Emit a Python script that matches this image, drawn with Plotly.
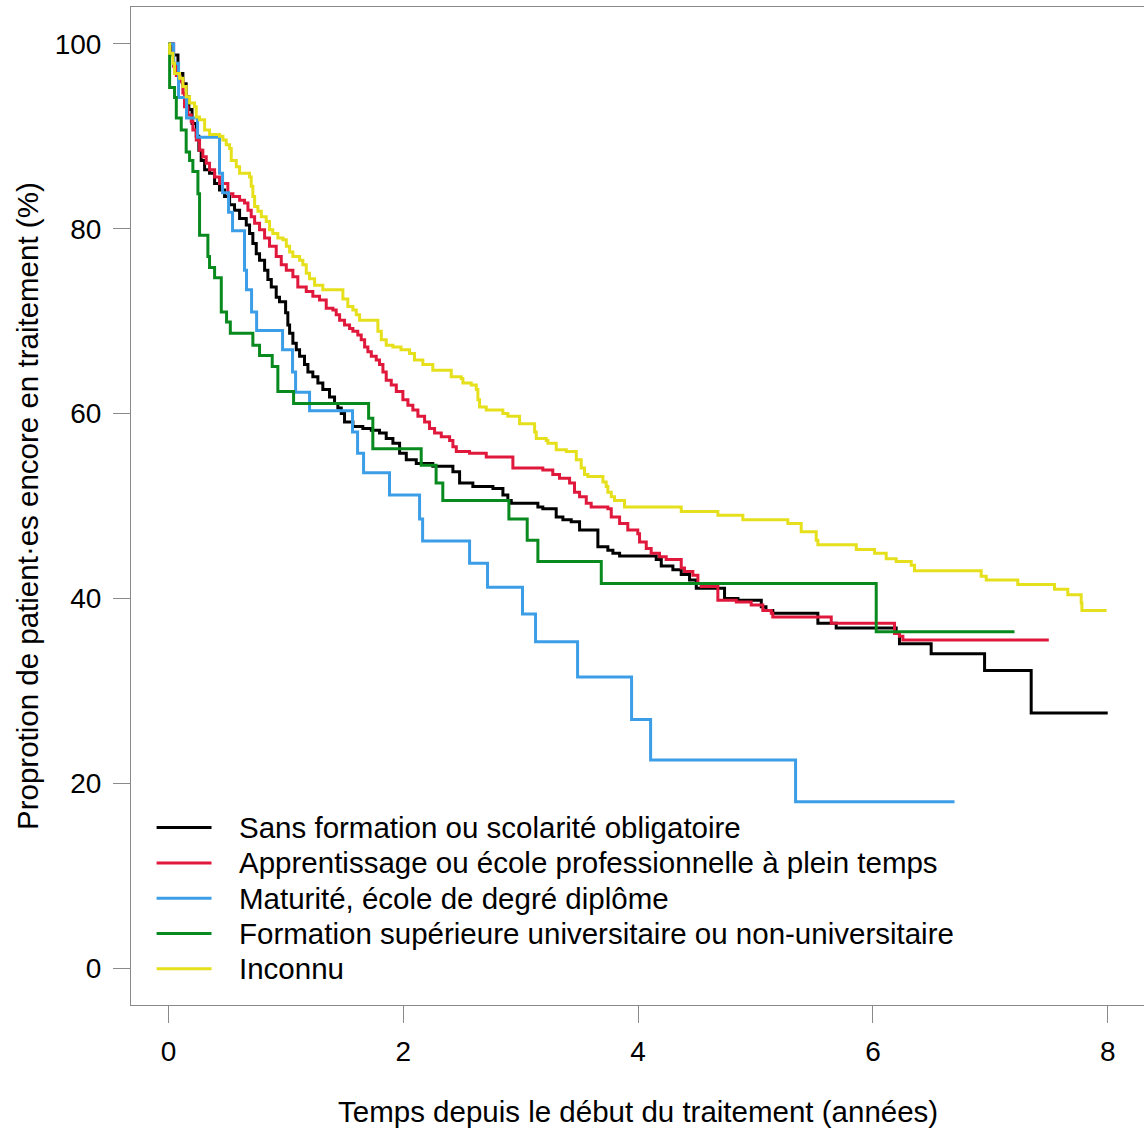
import plotly.graph_objects as go

# Kaplan-Meier style retention curves by education level
labels = [
    "Sans formation ou scolarité obligatoire",
    "Apprentissage ou école professionnelle à plein temps",
    "Maturité, école de degré diplôme",
    "Formation supérieure universitaire ou non-universitaire",
    "Inconnu",
]
colors = ["#000000", "#E0183C", "#3D9EE8", "#098A1F", "#E6E01C"]

# Step times (years) and proportion still in treatment (%) after each step
sans_t = [0, 0.037, 0.08, 0.122, 0.15, 0.173, 0.2, 0.236, 0.258, 0.278, 0.307, 0.349, 0.392, 0.434,
          0.477, 0.52, 0.562, 0.605, 0.662, 0.69, 0.718, 0.747, 0.775, 0.818, 0.846, 0.875, 0.917,
          0.945, 0.997, 1.016, 1.031, 1.059, 1.088, 1.116, 1.158, 1.187, 1.229, 1.272, 1.314, 1.371,
          1.414, 1.442, 1.471, 1.499, 1.57, 1.655, 1.727, 1.797, 1.854, 1.911, 1.968, 2.025, 2.11,
          2.251, 2.422, 2.479, 2.592, 2.763, 2.848, 2.89, 2.919, 3.146, 3.188, 3.302, 3.359, 3.43,
          3.501, 3.657, 3.742, 3.785, 3.842, 4.154, 4.197, 4.296, 4.367, 4.438, 4.495, 4.736, 4.85,
          5.049, 5.089, 5.147, 5.531, 5.687, 6.198, 6.226, 6.496, 6.951, 7.348]
sans_v = [100, 98.8, 96.8, 95.7, 94.3, 92.9, 91.4, 90.0, 88.5, 87.4, 86.4, 86.0, 84.9, 84.2,
          83.5, 82.6, 82.0, 81.1, 80.4, 79.5, 78.4, 77.3, 76.6, 75.5, 74.5, 73.7, 72.6,
          72.1, 70.9, 69.6, 68.7, 67.6, 66.9, 66.2, 65.3, 64.5, 64.0, 63.3, 62.6, 61.8,
          61.1, 60.6, 60.0, 59.1, 58.6, 58.4, 58.2, 57.9, 57.3, 56.8, 55.7, 55.0, 54.6,
          54.3, 53.7, 52.5, 52.1, 51.9, 51.2, 50.6, 50.3, 49.9, 49.7, 48.8, 48.5, 48.3,
          47.4, 45.6, 45.2, 44.9, 44.6, 44.2, 43.5, 43.1, 42.6, 42.0, 41.1, 40.0, 39.8,
          39.1, 38.7, 38.4, 37.3, 36.8, 36.2, 35.1, 34.0, 32.2, 27.6]
sans_end = 8.0

appr_t = [0, 0.043, 0.066, 0.094, 0.122, 0.136, 0.165, 0.193, 0.207, 0.236, 0.264, 0.292, 0.321,
          0.349, 0.392, 0.434, 0.505, 0.548, 0.605, 0.647, 0.676, 0.704, 0.733, 0.775, 0.818, 0.86,
          0.917, 0.96, 1.003, 1.059, 1.101, 1.173, 1.229, 1.286, 1.343, 1.4, 1.428, 1.457, 1.499,
          1.542, 1.57, 1.612, 1.641, 1.67, 1.698, 1.727, 1.769, 1.797, 1.826, 1.854, 1.897, 1.94,
          1.996, 2.039, 2.081, 2.124, 2.181, 2.223, 2.266, 2.323, 2.394, 2.422, 2.451, 2.564, 2.706,
          2.933, 3.188, 3.273, 3.33, 3.416, 3.458, 3.501, 3.558, 3.6, 3.742, 3.771, 3.842, 3.912,
          3.997, 4.012, 4.069, 4.111, 4.182, 4.239, 4.367, 4.395, 4.466, 4.509, 4.537, 4.679, 4.836,
          4.963, 5.062, 5.134, 5.147, 5.645, 6.184, 6.226, 6.255]
appr_v = [100, 97.6, 96.6, 95.9, 94.7, 93.2, 92.3, 91.6, 90.7, 89.6, 88.5, 87.8, 87.1,
          86.4, 85.6, 84.9, 83.8, 83.5, 83.1, 82.8, 82.0, 81.3, 80.6, 79.9, 79.0, 78.1,
          77.0, 76.1, 75.5, 74.8, 73.7, 73.2, 72.7, 72.3, 71.4, 71.2, 70.7, 70.1, 69.6,
          69.2, 68.9, 68.5, 68.0, 67.2, 66.7, 66.2, 65.8, 65.3, 64.5, 63.6, 63.1, 62.4,
          61.5, 60.9, 60.4, 59.7, 59.1, 58.4, 57.9, 57.5, 57.1, 56.4, 55.9, 55.7, 55.3,
          54.1, 53.9, 53.4, 53.0, 52.5, 51.5, 51.0, 50.3, 49.9, 49.7, 48.8, 48.1, 47.4,
          47.0, 46.1, 45.4, 44.9, 44.5, 44.2, 43.3, 42.9, 42.5, 41.6, 41.3, 39.8, 39.6,
          39.3, 38.7, 38.4, 38.0, 37.3, 36.2, 35.9, 35.5]
appr_end = 7.498

matu_t = [0, 0.043, 0.085, 0.153, 0.247, 0.434, 0.46, 0.511, 0.545, 0.647,
          0.664, 0.707, 0.750, 0.971, 1.056, 1.082, 1.201, 1.567, 1.61, 1.661,
          1.882, 2.138, 2.164, 2.564, 2.717, 3.015, 3.126, 3.484, 3.944, 4.106, 5.341]
matu_v = [100, 97.9, 94.2, 92.0, 89.9, 86.0, 83.9, 81.8, 79.8, 75.5,
          73.4, 71.0, 69.0, 66.9, 64.5, 62.3, 60.3, 58.0, 55.7, 53.6,
          51.2, 48.6, 46.2, 43.8, 41.2, 38.3, 35.3, 31.5, 26.9, 22.5, 18.0]
matu_end = 6.695

sup_t = [0, 0.009, 0.051, 0.066, 0.108, 0.15, 0.179, 0.207, 0.25, 0.264,
         0.335, 0.349, 0.392, 0.449, 0.494, 0.526, 0.718, 0.775, 0.883, 0.931,
         1.065, 1.704, 1.740, 2.152, 2.279, 2.336, 2.899, 3.055, 3.146, 3.686, 6.028]
sup_v = [100, 95.3, 94.2, 92.0, 90.7, 88.3, 87.4, 86.2, 83.8, 79.3,
         77.0, 75.8, 74.7, 71.0, 69.9, 68.7, 67.4, 66.3, 65.1, 62.4,
         61.1, 59.5, 56.2, 54.4, 52.5, 50.6, 48.6, 46.3, 44.0, 41.6, 36.4]
sup_end = 7.206

inc_t = [0, 0.009, 0.037, 0.051, 0.094, 0.122, 0.15, 0.179, 0.221, 0.236,
         0.264, 0.307, 0.349, 0.434, 0.463, 0.491, 0.52, 0.534, 0.577, 0.605,
         0.69, 0.704, 0.718, 0.733, 0.761, 0.79, 0.832, 0.86, 0.888, 0.931,
         0.974, 1.003, 1.031, 1.059, 1.116, 1.144, 1.173, 1.201, 1.244, 1.314,
         1.485, 1.527, 1.57, 1.599, 1.627, 1.783, 1.812, 1.854, 1.911, 1.98,
         2.053, 2.095, 2.166, 2.251, 2.408, 2.493, 2.507, 2.578, 2.621, 2.635,
         2.649, 2.706, 2.848, 2.89, 2.99, 3.118, 3.132, 3.217, 3.231, 3.302,
         3.388, 3.473, 3.515, 3.543, 3.572, 3.7, 3.728, 3.742, 3.771, 3.799,
         3.884, 4.367, 4.679, 4.892, 5.275, 5.389, 5.517, 5.531, 5.858, 6.014,
         6.113, 6.198, 6.326, 6.354, 6.922, 6.965, 7.234, 7.547, 7.66, 7.774, 7.78]
inc_v = [100, 99.0, 97.9, 96.8, 96.3, 95.4, 94.3, 93.6, 93.2, 92.1,
         91.8, 90.7, 90.2, 90.0, 89.6, 89.1, 88.7, 87.4, 86.7, 86.0,
         85.6, 84.6, 83.5, 82.4, 81.9, 81.3, 80.8, 79.9, 79.5, 79.0,
         78.8, 78.1, 77.5, 77.0, 76.6, 76.1, 75.2, 74.6, 73.9, 73.4,
         72.4, 71.6, 71.2, 70.7, 70.1, 68.9, 68.0, 67.4, 67.2, 66.9,
         66.5, 65.8, 65.3, 64.7, 64.0, 63.8, 63.3, 63.1, 62.6, 61.5,
         60.7, 60.4, 60.0, 59.7, 58.9, 58.0, 57.3, 57.1, 56.8, 56.1,
         55.9, 55.0, 54.1, 53.4, 53.2, 52.6, 52.1, 51.5, 51.0, 50.6,
         49.9, 49.4, 49.0, 48.5, 48.1, 47.2, 46.3, 45.8, 45.3, 44.9,
         44.3, 44.0, 43.6, 43.0, 42.4, 42.0, 41.5, 41.0, 40.4, 39.5, 38.7]
inc_end = 7.99

x_ticks = [0, 2, 4, 6, 8]
y_ticks = [0, 20, 40, 60, 80, 100]

series = [
    (sans_t, sans_v, sans_end),
    (appr_t, appr_v, appr_end),
    (matu_t, matu_v, matu_end),
    (sup_t, sup_v, sup_end),
    (inc_t, inc_v, inc_end),
]

FONT = "Liberation Sans, Arial, sans-serif"
AXIS_GREY = "#8a8a8a"
TEXT_SIZE = 29.5
TICK_SIZE = 28

fig = go.Figure()
for (t, v, t_end), name, col in zip(series, labels, colors):
    fig.add_trace(go.Scatter(
        x=list(t) + [t_end], y=list(v) + [v[-1]],
        mode="lines", line=dict(color=col, width=3, shape="hv"),
        name=name, showlegend=False, hoverinfo="skip",
    ))

# Legend drawn inside the plot, bottom-left, in axis units
leg_x0, leg_x1, leg_tx = -0.102, 0.366, 0.58
leg_y0, leg_dy = 15.2, 3.82
for i, (name, col) in enumerate(zip(labels, colors)):
    yy = leg_y0 - i * leg_dy
    fig.add_shape(type="line", xref="x", yref="y", x0=leg_x0, x1=leg_x1, y0=yy, y1=yy,
                  line=dict(color=col, width=3))
    fig.add_annotation(x=leg_tx, y=yy, xref="x", yref="y", text=name, showarrow=False,
                       xanchor="left", yanchor="middle",
                       font=dict(family=FONT, size=TEXT_SIZE, color="#000000"))

# Axis titles
fig.add_annotation(x=0.5, y=0, xref="paper", yref="paper", yshift=-106,
                   text="Temps depuis le début du traitement (années)", showarrow=False,
                   xanchor="center", yanchor="middle",
                   font=dict(family=FONT, size=TEXT_SIZE, color="#000000"))
fig.add_annotation(x=0, y=0.5, xref="paper", yref="paper", xshift=-104,
                   text="Proprotion de patient·es encore en traitement (%)", showarrow=False,
                   textangle=-90, xanchor="center", yanchor="middle",
                   font=dict(family=FONT, size=TEXT_SIZE, color="#000000"))

fig.update_layout(
    width=1144, height=1128,
    margin=dict(l=131, r=0, t=7, b=123),
    paper_bgcolor="white", plot_bgcolor="white",
    font=dict(family=FONT, size=TEXT_SIZE, color="#000000"),
    xaxis=dict(range=[-0.32, 8.309], tickvals=x_ticks, ticks="outside", ticklen=17,
               tickcolor=AXIS_GREY, tickwidth=1, showline=True, linecolor=AXIS_GREY,
               linewidth=1, mirror=True, showgrid=False, zeroline=False,
               ticklabelstandoff=4, tickfont=dict(family=FONT, size=TICK_SIZE, color="#000000")),
    yaxis=dict(range=[-4, 104], tickvals=y_ticks, ticks="outside", ticklen=17,
               tickcolor=AXIS_GREY, tickwidth=1, showline=True, linecolor=AXIS_GREY,
               linewidth=1, mirror=False, showgrid=False, zeroline=False,
               ticklabelstandoff=6, tickfont=dict(family=FONT, size=TICK_SIZE, color="#000000")),
)

fig.write_html("out.html")
